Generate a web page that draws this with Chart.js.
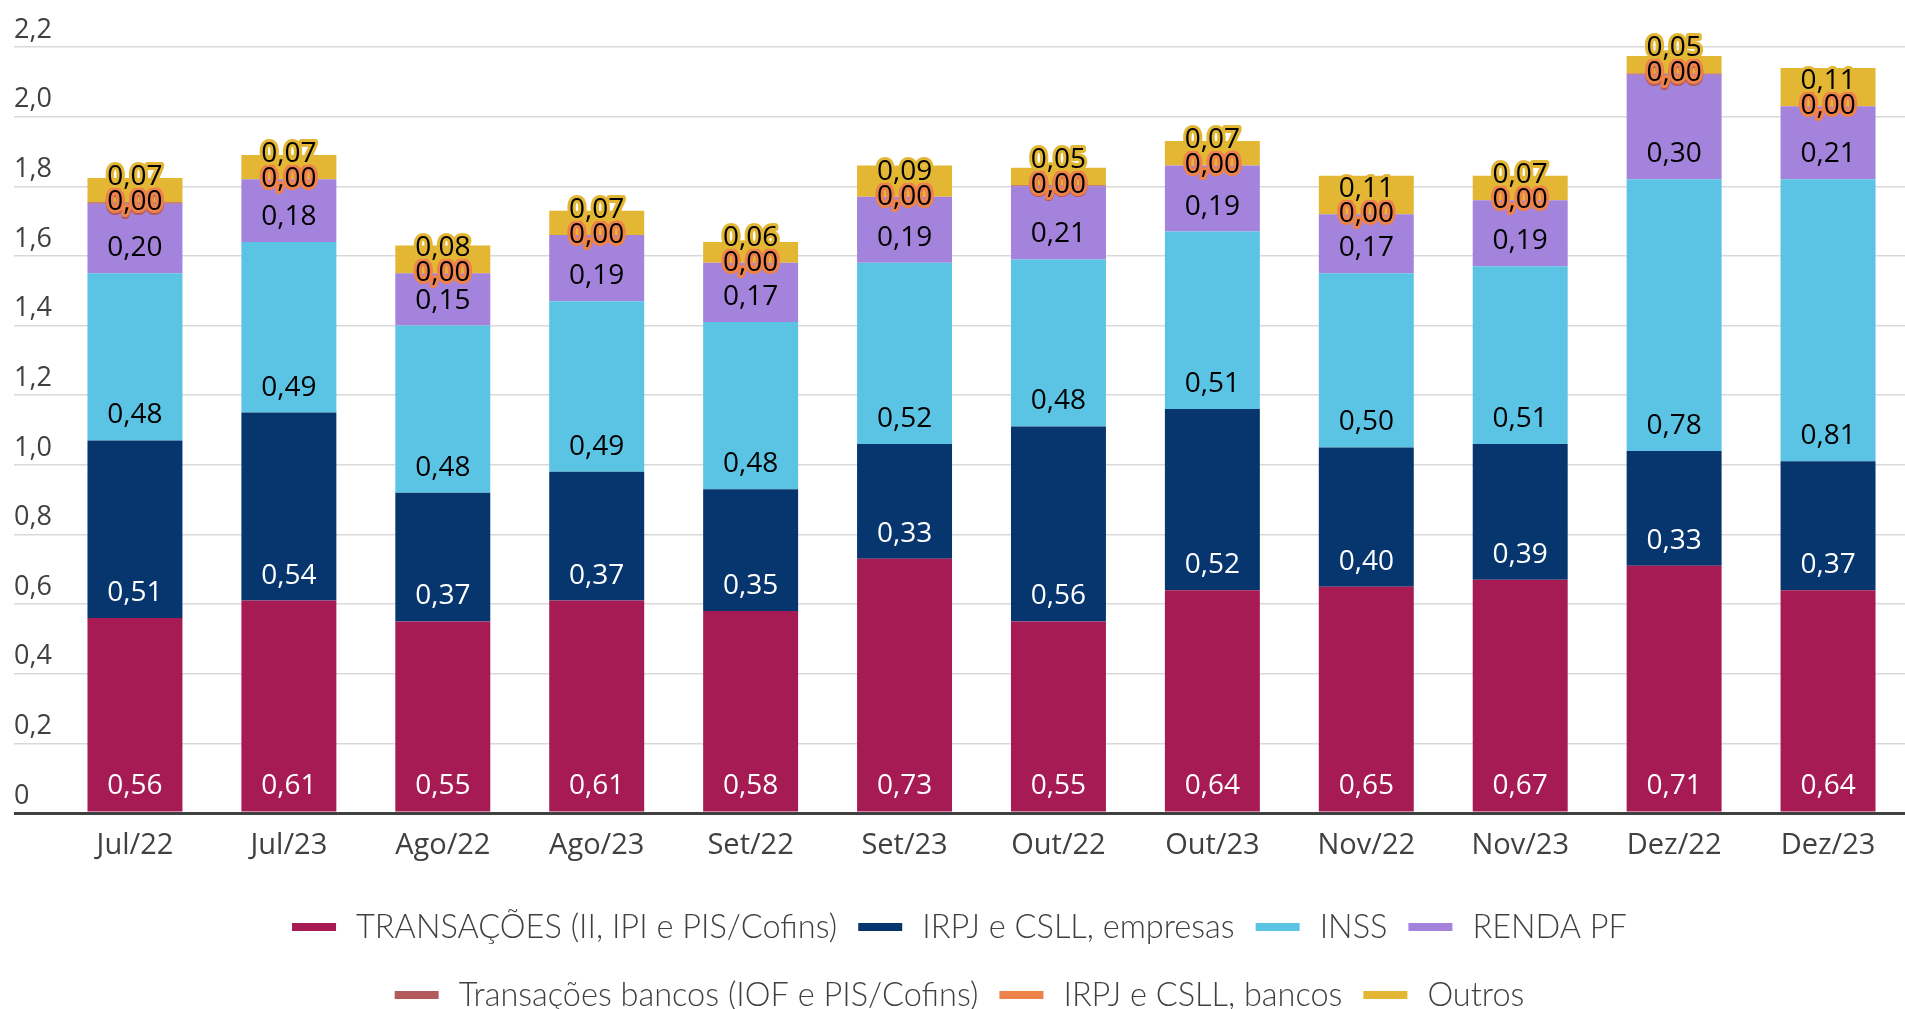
<!DOCTYPE html>
<html>
<head>
<meta charset="utf-8">
<script src="https://cdn.jsdelivr.net/npm/chart.js@4.4.1/dist/chart.umd.min.js"></script>
<style>
  html, body { margin: 0; padding: 0; background: #fff; overflow: hidden; }
  #wrap { width: 1905px; height: 1009px; position: relative; }
</style>
</head>
<body>
<div id="wrap"><canvas id="chart"></canvas></div>
<script>
// values (R$ trilhões)
const categories   = ['Jul/22','Jul/23','Ago/22','Ago/23','Set/22','Set/23','Out/22','Out/23','Nov/22','Nov/23','Dez/22','Dez/23'];
const transacoes   = [0.56, 0.61, 0.55, 0.61, 0.58, 0.73, 0.55, 0.64, 0.65, 0.67, 0.71, 0.64];
const irpjEmpresas = [0.51, 0.54, 0.37, 0.37, 0.35, 0.33, 0.56, 0.52, 0.40, 0.39, 0.33, 0.37];
const inss         = [0.48, 0.49, 0.48, 0.49, 0.48, 0.52, 0.48, 0.51, 0.50, 0.51, 0.78, 0.81];
const rendaPF      = [0.20, 0.18, 0.15, 0.19, 0.17, 0.19, 0.21, 0.19, 0.17, 0.19, 0.30, 0.21];
const transBancos  = [0.004, 0, 0, 0, 0, 0, 0.003, 0, 0, 0, 0.004, 0];
const irpjBancos   = [0, 0, 0, 0, 0, 0, 0, 0, 0, 0, 0, 0];
const outros       = [0.07, 0.07, 0.08, 0.07, 0.06, 0.09, 0.05, 0.07, 0.11, 0.07, 0.05, 0.11];

const Y_MAX  = 2.2;
const Y_STEP = 0.2;

// legend is two rows: first four series, then the rest
const LEGEND_ROWS = [[0, 1, 2, 3], [4, 5, 6]];

const fmt = (v, d) => v.toFixed(d).replace('.', ',');

function series(label, data, color, textColor, skipZero) {
  return {
    label, data,
    backgroundColor: color,
    borderWidth: 0,
    labelColor: textColor,
    skipZero: !!skipZero
  };
}

const datasets = [
  series('TRANSAÇÕES (II, IPI e PIS/Cofins)',    transacoes,   '#a71b55', '#ffffff'),
  series('IRPJ e CSLL, empresas',                irpjEmpresas, '#07366f', '#ffffff'),
  series('INSS',                                 inss,         '#5bc4e4', '#000000'),
  series('RENDA PF',                             rendaPF,      '#a383db', '#000000'),
  series('Transações bancos (IOF e PIS/Cofins)', transBancos,  '#b35b5a', '#000000', true),
  series('IRPJ e CSLL, bancos',                  irpjBancos,   '#ee824b', '#000000'),
  series('Outros',                               outros,       '#e3b734', '#000000')
];

// value labels: "inside base" for normal segments, on the base for tiny ones
const segmentLabels = {
  id: 'segmentLabels',
  afterDatasetsDraw(chart) {
    const ctx = chart.ctx;
    ctx.save();
    ctx.font = '28px "Open Sans"';
    ctx.textAlign = 'center';
    ctx.textBaseline = 'middle';
    ctx.lineJoin = 'round';
    chart.data.datasets.forEach((ds, di) => {
      const meta = chart.getDatasetMeta(di);
      meta.data.forEach((bar, i) => {
        const v = ds.data[i];
        if (ds.skipZero && !v) return;
        const y = v < 0.02 ? bar.base : bar.base - 25;
        const txt = fmt(v, 2);
        ctx.lineWidth = 6;
        ctx.strokeStyle = ds.backgroundColor;
        ctx.strokeText(txt, bar.x, y);
        ctx.fillStyle = ds.labelColor;
        ctx.fillText(txt, bar.x, y);
      });
    });
    ctx.restore();
  }
};

// legend with short thick line markers, rows centred under the plot
const bottomLegend = {
  id: 'bottomLegend',
  afterDraw(chart) {
    const ctx = chart.ctx;
    const sets = chart.data.datasets;
    const markW = 44, markH = 8, gapText = 20, gapItem = 21;
    const cx = (14 + chart.width) / 2;
    const firstRow = chart.chartArea.bottom + 114;
    const rowStep = 68;
    ctx.save();
    ctx.font = '300 32.5px Lato';
    ctx.textBaseline = 'alphabetic';
    ctx.textAlign = 'left';
    LEGEND_ROWS.forEach((row, r) => {
      const widths = row.map(i => markW + gapText + ctx.measureText(sets[i].label).width);
      const total = widths.reduce((a, b) => a + b, 0) + gapItem * (row.length - 1);
      const y = firstRow + r * rowStep;
      let x = cx - total / 2;
      row.forEach((i, k) => {
        ctx.fillStyle = sets[i].backgroundColor;
        ctx.fillRect(x, y - markH / 2, markW, markH);
        ctx.fillStyle = '#404040';
        ctx.fillText(sets[i].label, x + markW + gapText, y + 11);
        x += widths[k] + gapItem;
      });
    });
    ctx.restore();
  }
};

new Chart(document.getElementById('chart'), {
  type: 'bar',
  data: { labels: categories, datasets },
  options: {
    responsive: true,
    maintainAspectRatio: false,
    animation: false,
    layout: { padding: { left: 14, right: 0, top: 47, bottom: 112 } },
    datasets: { bar: { categoryPercentage: 1, barPercentage: 0.617 } },
    plugins: {
      tooltip: { enabled: false },
      legend: { display: false }
    },
    scales: {
      x: {
        stacked: true,
        grid: { display: false },
        border: { display: false },
        ticks: {
          color: '#404040',
          font: { family: 'Open Sans', size: 29 },
          padding: 7,
          maxRotation: 0,
          autoSkip: false
        },
        afterFit(scale) { scale.height = 84; }
      },
      y: {
        stacked: true,
        min: 0,
        max: Y_MAX,
        border: { display: false },
        grid: {
          color: c => c.tick && c.tick.value === 0 ? '#404040' : '#d9d9d9',
          lineWidth: c => c.tick && c.tick.value === 0 ? 3 : 1.5,
          tickLength: 44
        },
        ticks: {
          stepSize: Y_STEP,
          color: '#404040',
          font: { family: 'Open Sans', size: 27 },
          crossAlign: 'far',
          labelOffset: -17,
          padding: 0,
          callback: v => v === 0 ? '0' : fmt(v, 1)
        },
        afterFit(scale) { scale.width = 44; }
      }
    }
  },
  plugins: [segmentLabels, bottomLegend]
});
</script>
</body>
</html>
